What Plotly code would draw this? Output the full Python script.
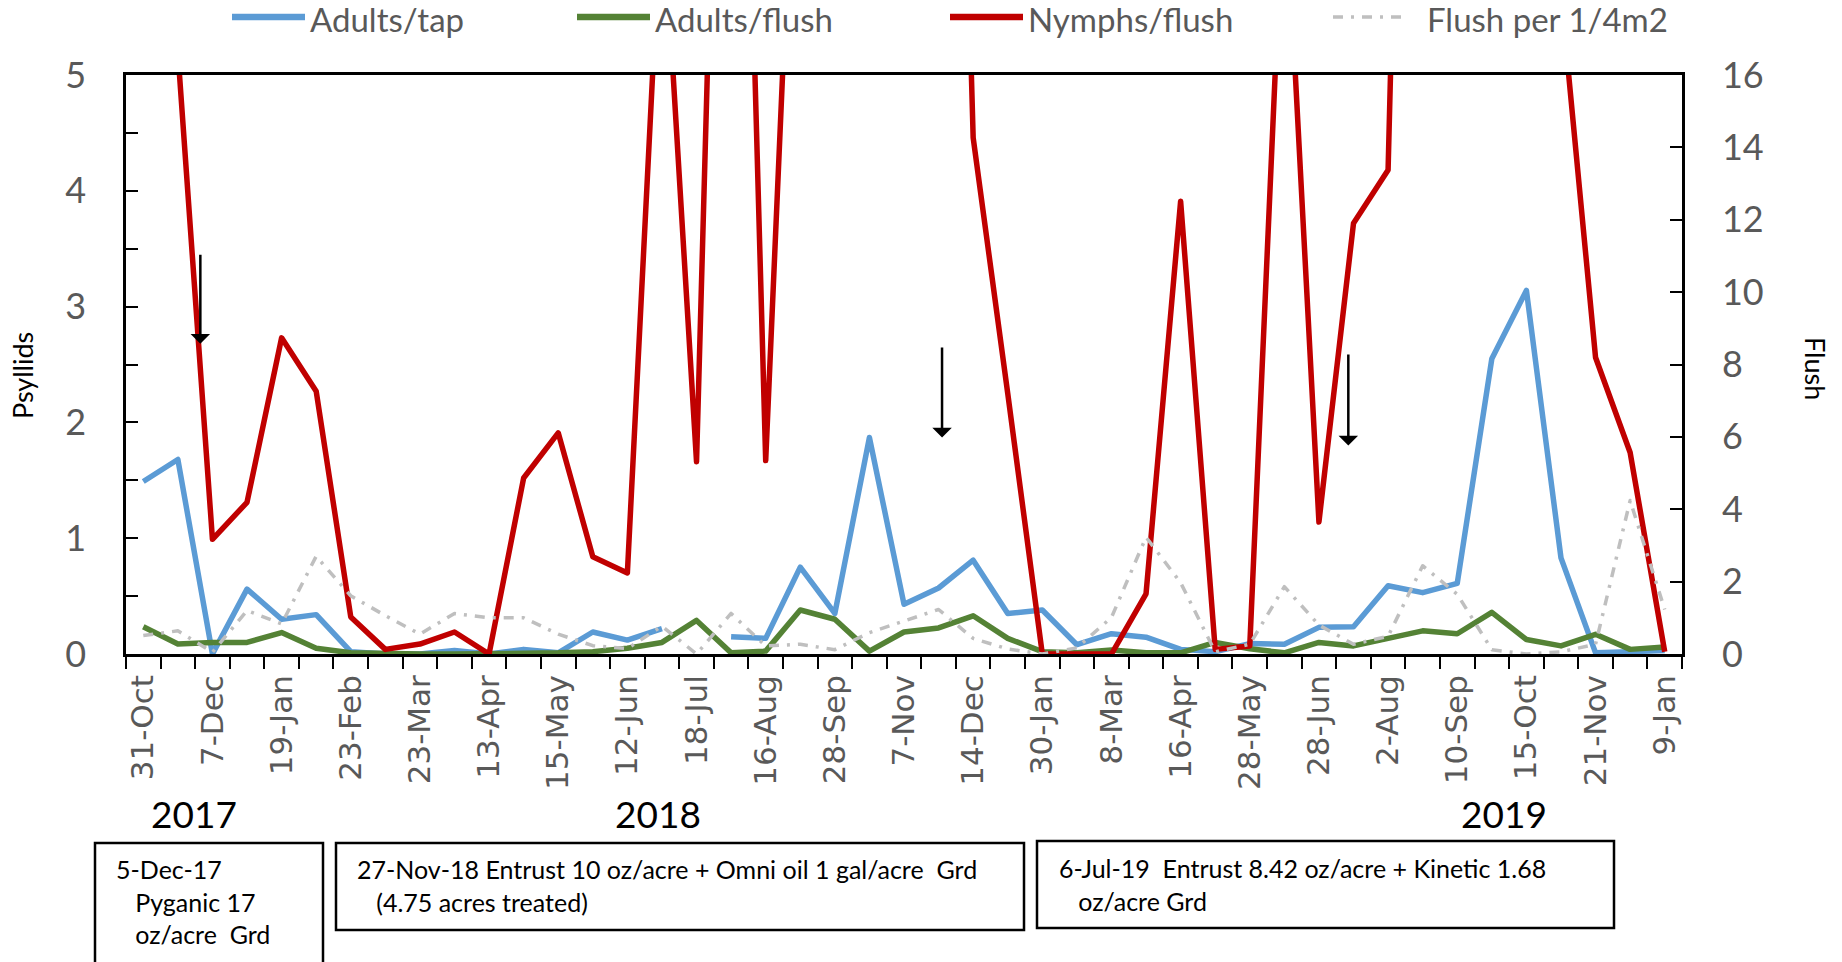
import plotly.graph_objects as go

# ---------------- data ----------------
dates = ["31-Oct-17", "21-Nov-17", "7-Dec-17", "28-Dec-17", "19-Jan-18", "7-Feb-18",
         "23-Feb-18", "9-Mar-18", "23-Mar-18", "3-Apr-18", "13-Apr-18", "30-Apr-18",
         "15-May-18", "29-May-18", "12-Jun-18", "28-Jun-18", "18-Jul-18", "1-Aug-18",
         "16-Aug-18", "4-Sep-18", "28-Sep-18", "17-Oct-18", "7-Nov-18", "27-Nov-18",
         "14-Dec-18", "10-Jan-19", "30-Jan-19", "20-Feb-19", "8-Mar-19", "27-Mar-19",
         "16-Apr-19", "8-May-19", "28-May-19", "12-Jun-19", "28-Jun-19", "16-Jul-19",
         "2-Aug-19", "22-Aug-19", "10-Sep-19", "27-Sep-19", "15-Oct-19", "5-Nov-19",
         "21-Nov-19", "17-Dec-19", "9-Jan-20"]

adults_tap = [1.49, 1.68, 0.0, 0.56, 0.30, 0.34, 0.02, 0.0, 0.0, 0.03, 0.0, 0.04,
              0.01, 0.19, 0.12, 0.22, None, 0.15, 0.135, 0.75, 0.35, 1.87, 0.43, 0.57,
              0.81, 0.35, 0.38, 0.08, 0.175, 0.145, 0.04, 0.02, 0.09, 0.085, 0.23, 0.235,
              0.59, 0.53, 0.61, 2.55, 3.14, 0.83, 0.01, 0.02, 0.03]

adults_flush = [0.235, 0.086, 0.10, 0.10, 0.185, 0.05, 0.01, 0.0, 0.0, 0.0, 0.0, 0.0,
                0.01, 0.02, 0.05, 0.10, 0.29, 0.01, 0.025, 0.38, 0.30, 0.025, 0.19, 0.225,
                0.33, 0.135, 0.02, 0.01, 0.035, 0.01, 0.01, 0.10, 0.045, 0.01, 0.10, 0.07,
                0.13, 0.20, 0.175, 0.36, 0.125, 0.07, 0.17, 0.04, 0.06]

nymphs_flush = [12.0, 5.2, 0.99, 1.31, 2.73, 2.27, 0.32, 0.04, 0.086, 0.19, 0.0, 1.52,
                1.91, 0.84, 0.70, 6.6, 1.66, 12.4, 1.67, 8.5, 12.0, 14.0, 15.0, 15.0,
                4.46, 2.25, 0.0, 0.0, 0.0, 0.52, 3.91, 0.04, 0.07, 6.8, 1.14, 3.72,
                4.18, 16.0, 14.0, 13.0, 12.0, 5.7, 2.56, 1.74, 0.02]

flush_per_quarter_m2 = [0.51, 0.64, 0.05, 1.2, 0.83, 2.70, 1.61, 1.06, 0.55, 1.12, 1.0, 1.0,
                        0.55, 0.23, 0.15, 0.77, 0.0, 1.12, 0.22, 0.27, 0.12, 0.59, 0.91, 1.23,
                        0.43, 0.14, 0.0, 0.17, 1.01, 3.23, 1.97, 0.06, 0.27, 1.86, 0.8, 0.27,
                        0.49, 2.44, 1.65, 0.12, 0.0, 0.06, 0.27, 4.24, 1.23]

tick_text = ['-'.join(d.split('-')[:2]) if i % 2 == 0 else '' for i, d in enumerate(dates)]

series_names = ["Adults/tap", "Adults/flush", "Nymphs/flush", "Flush per 1/4m2"]
series_colors = ["#5B9BD5", "#548235", "#C00000", "#BFBFBF"]

years = ["2017", "2018", "2019"]

treatments = [
    "5-Dec-17<br>&nbsp;&nbsp;&nbsp;Pyganic 17<br>&nbsp;&nbsp;&nbsp;oz/acre&nbsp;&nbsp;Grd",
    "27-Nov-18 Entrust 10 oz/acre + Omni oil 1 gal/acre&nbsp;&nbsp;Grd<br>&nbsp;&nbsp;&nbsp;(4.75 acres treated)",
    "6-Jul-19&nbsp;&nbsp;Entrust 8.42 oz/acre + Kinetic 1.68<br>&nbsp;&nbsp;&nbsp;oz/acre Grd",
]
# treatment arrows: (category position, arrow tail value, arrow tip value)
arrow_x = [1.65, 23.1, 34.85]
arrow_tail = [3.46, 2.66, 2.60]
arrow_tip = [2.68, 1.87, 1.80]

# ---------------- layout helpers ----------------
W, H = 1842, 962
ML, MR, MT, MB = 126, 160, 75, 308
PW, PH = W - ML - MR, H - MT - MB


def pxx(x):
    return (x - ML) / PW


def pxy(y):
    return (H - MB - y) / PH


NUM_FONT = "Lato, Carlito, sans-serif"
GREY = "#595959"
DASHDOT = "10px,8px,3px,8px"

fig = go.Figure()
fig.add_trace(go.Scatter(x=dates, y=adults_tap, mode="lines", name=series_names[0],
                         line=dict(color=series_colors[0], width=5.5), connectgaps=False,
                         showlegend=False))
fig.add_trace(go.Scatter(x=dates, y=adults_flush, mode="lines", name=series_names[1],
                         line=dict(color=series_colors[1], width=5.5), showlegend=False))
fig.add_trace(go.Scatter(x=dates, y=nymphs_flush, mode="lines", name=series_names[2],
                         line=dict(color=series_colors[2], width=5.5), showlegend=False))
fig.add_trace(go.Scatter(x=dates, y=flush_per_quarter_m2, mode="lines", name=series_names[3],
                         line=dict(color=series_colors[3], width=3.5, dash=DASHDOT),
                         yaxis="y2", showlegend=False))

shapes = []
annotations = []

# manual legend
leg_line_x = [(232, 305), (577, 650), (950, 1023), (1333, 1404)]
leg_text_x = [308, 653, 1026, 1425]
for i in range(4):
    x0, x1 = leg_line_x[i]
    line = dict(color=series_colors[i], width=6.5 if i < 3 else 3.5)
    if i == 3:
        line["dash"] = DASHDOT
    shapes.append(dict(type="line", xref="paper", yref="paper", x0=pxx(x0), x1=pxx(x1),
                       y0=pxy(17), y1=pxy(17), line=line))
    annotations.append(dict(xref="paper", yref="paper", x=pxx(leg_text_x[i]), y=pxy(19),
                            xanchor="left", yanchor="middle", showarrow=False,
                            text=series_names[i], font=dict(family=NUM_FONT, size=33, color=GREY)))

# arrows
for xa, yt, yh in zip(arrow_x, arrow_tail, arrow_tip):
    annotations.append(dict(x=xa, y=yh, ax=xa, ay=yt, xref="x", yref="y", axref="x", ayref="y",
                            text="", showarrow=True, arrowhead=1, arrowsize=1.3,
                            arrowwidth=2.5, arrowcolor="black", standoff=0))

# year labels
year_x = [194, 658, 1504]
for yr, xp in zip(years, year_x):
    annotations.append(dict(xref="paper", yref="paper", x=pxx(xp), y=pxy(813),
                            xanchor="center", yanchor="middle", showarrow=False, text=yr,
                            font=dict(family=NUM_FONT, size=37, color="black")))

# treatment boxes
boxes = [(95, 843, 323, 990), (336, 843, 1024, 930), (1037, 841, 1614, 928)]
text_pos = [(114, 852), (355, 852), (1057, 851)]
for (x0, y0, x1, y1), (tx, ty), txt in zip(boxes, text_pos, treatments):
    shapes.append(dict(type="rect", xref="paper", yref="paper", x0=pxx(x0), x1=pxx(x1),
                       y0=pxy(y1), y1=pxy(y0), line=dict(color="black", width=2.5),
                       fillcolor="rgba(0,0,0,0)"))
    annotations.append(dict(xref="paper", yref="paper", x=pxx(tx), y=pxy(ty),
                            xanchor="left", yanchor="top", align="left", showarrow=False,
                            text=txt, font=dict(family=NUM_FONT, size=25, color="black")))

# axis titles
annotations.append(dict(xref="paper", yref="paper", x=pxx(23), y=pxy(376), textangle=-90,
                        xanchor="center", yanchor="middle", showarrow=False, text="Psyllids",
                        font=dict(family=NUM_FONT, size=27, color="black")))
annotations.append(dict(xref="paper", yref="paper", x=pxx(1815), y=pxy(368), textangle=90,
                        xanchor="center", yanchor="middle", showarrow=False, text="Flush",
                        font=dict(family=NUM_FONT, size=27, color="black")))

fig.update_layout(
    width=W, height=H,
    margin=dict(l=ML, r=MR, t=MT, b=MB, pad=0),
    paper_bgcolor="white", plot_bgcolor="white",
    showlegend=False,
    xaxis=dict(type="category", range=[-0.5, 44.5], tickmode="array", tickvals=dates,
               ticktext=tick_text, tickangle=-90, ticks="outside", ticklen=12, tickwidth=2,
               tickcolor="black", tickson="boundaries", showline=True, linecolor="black",
               linewidth=2.5, mirror=True, showgrid=False, zeroline=False,
               tickfont=dict(family="DejaVu Sans", size=31, color=GREY), ticklabelstandoff=6),
    yaxis=dict(range=[0, 5], tick0=0, dtick=1, ticks="inside", ticklen=12, tickwidth=2,
               tickcolor="black", showline=True, linecolor="black", linewidth=2.5,
               showgrid=False, zeroline=False,
               minor=dict(dtick=0.5, ticks="inside", ticklen=12, tickwidth=2,
                          tickcolor="black", showgrid=False),
               tickfont=dict(family=NUM_FONT, size=36, color=GREY), ticklabelstandoff=30),
    yaxis2=dict(overlaying="y", side="right", range=[0, 16], tick0=0, dtick=2,
                ticks="inside", ticklen=12, tickwidth=2, tickcolor="black", showline=True,
                linecolor="black", linewidth=2.5, showgrid=False, zeroline=False,
                tickfont=dict(family=NUM_FONT, size=36, color=GREY), ticklabelstandoff=30),
    shapes=shapes,
    annotations=annotations,
)

post = ("document.body.style.margin='0';document.body.style.overflow='hidden';"
        "document.querySelectorAll('.scatterlayer .js-line').forEach(function(p){"
        "p.style.strokeLinejoin='round';});")
fig.write_html("out.html", post_script=post, config={"displayModeBar": False})
